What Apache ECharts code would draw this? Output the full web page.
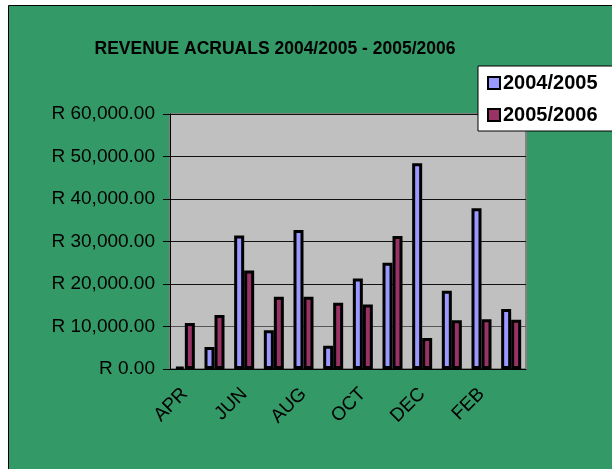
<!DOCTYPE html>
<html>
<head>
<meta charset="utf-8">
<script src="https://cdn.jsdelivr.net/npm/echarts@6/dist/echarts.min.js"></script>
<style>
  html, body { margin: 0; padding: 0; background: #fff; }
  #chart { width: 612px; height: 469px; }
</style>
</head>
<body>
<div id="chart"></div>
<script>
const months = ['APR', 'MAY', 'JUN', 'JUL', 'AUG', 'SEP', 'OCT', 'NOV', 'DEC', 'JAN', 'FEB', 'MAR']
const rev2004 = [500, 5200, 31400, 9100, 32700, 5500, 21300, 25000, 48400, 18400, 37800, 14100]
const rev2005 = [10800, 12700, 23200, 17000, 17000, 15600, 15200, 31300, 7300, 11500, 11700, 11600]

function money(v) {
  return 'R ' + v.toLocaleString('en-US', { minimumFractionDigits: 2, maximumFractionDigits: 2 })
}

const myChart = echarts.init(document.getElementById('chart'))

const option = {
  animation: false,
  textStyle: { fontFamily: 'Liberation Sans, Arial, sans-serif' },
  graphic: [
    {
      type: 'rect',
      z: -10,
      shape: { x: 8.5, y: 5.5, width: 700, height: 600 },
      style: { fill: '#339966', stroke: '#000', lineWidth: 1 }
    }
  ],
  title: {
    text: 'REVENUE ACRUALS 2004/2005 - 2005/2006',
    left: 270,
    textAlign: 'center',
    top: 35,
    textStyle: { fontSize: 17.5, fontWeight: 'bold', color: '#000' }
  },
  legend: {
    orient: 'vertical',
    left: 478,
    top: 66,
    padding: [7, 30, 6, 9],
    itemGap: 12,
    itemWidth: 12,
    itemHeight: 12,
    icon: 'rect',
    backgroundColor: '#fff',
    borderColor: '#000',
    borderWidth: 1,
    borderRadius: 0,
    textStyle: { fontSize: 20, fontWeight: 'bold', color: '#000', padding: [0, 0, 0, -2] },
    data: ['2004/2005', '2005/2006']
  },
  grid: {
    left: 170,
    top: 114,
    right: 86,
    bottom: 100,
    show: true,
    backgroundColor: '#C0C0C0',
    borderColor: '#808080',
    borderWidth: 2
  },
  xAxis: {
    type: 'category',
    data: months,
    axisLine: { lineStyle: { color: '#000', width: 1 } },
    axisTick: { interval: 0, length: 6, lineStyle: { color: '#000' } },
    axisLabel: { interval: 1, rotate: 45, fontSize: 19, color: '#000', margin: 22 }
  },
  yAxis: {
    type: 'value',
    min: 0,
    max: 60000,
    interval: 10000,
    axisLine: { show: true, lineStyle: { color: '#000', width: 1 } },
    axisTick: { show: true, length: 7, lineStyle: { color: '#000' } },
    axisLabel: { fontSize: 19, color: '#000', margin: 15, formatter: money },
    splitLine: { lineStyle: { color: ['#000', '#555', '#111', '#111', '#111', '#111', '#111'], width: 1 } }
  },
  series: [
    {
      name: '2004/2005',
      type: 'bar',
      data: rev2004,
      barWidth: 10,
      barGap: '0%',
      itemStyle: { color: '#9999FF', borderColor: '#000', borderWidth: 3 }
    },
    {
      name: '2005/2006',
      type: 'bar',
      data: rev2005,
      barWidth: 10,
      itemStyle: { color: '#993366', borderColor: '#000', borderWidth: 3 }
    }
  ]
}

myChart.setOption(option)
</script>
</body>
</html>
